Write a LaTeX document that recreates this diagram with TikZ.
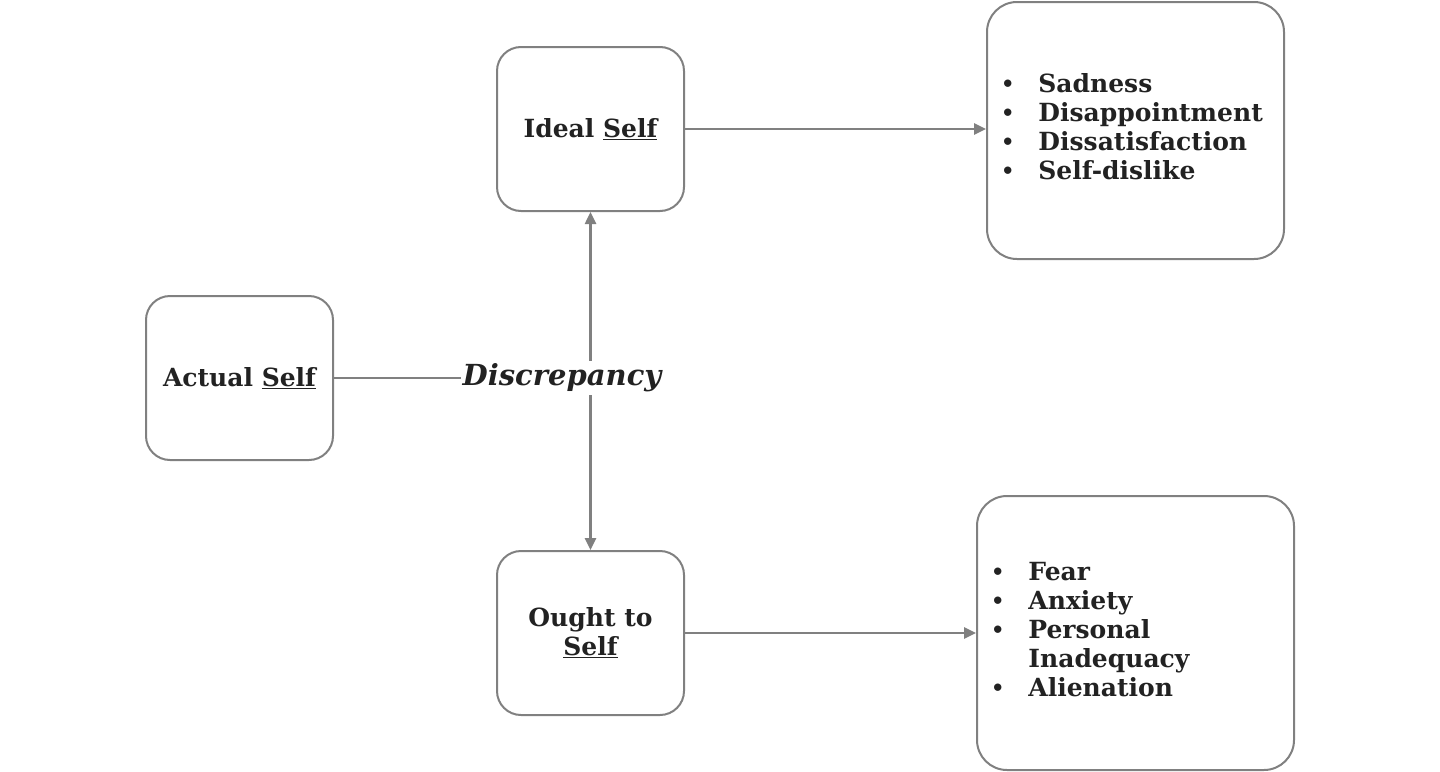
\documentclass[tikz,border=0pt]{standalone}
\usepackage{fontspec}
\setmainfont{DejaVu Serif}
\usetikzlibrary{arrows.meta}
\definecolor{linegray}{RGB}{128,128,128}
\definecolor{textdark}{RGB}{34,34,34}
\newcommand{\smallbul}{\raisebox{1.5pt}{\fontsize{21}{29}\selectfont •}}
\tikzset{
  selfbox/.style={draw=linegray, line width=2pt, rounded corners=24pt, minimum width=187pt, minimum height=164pt, align=center, text=textdark, font=\bfseries\fontsize{25}{29}\selectfont},
  listbox/.style={draw=linegray, line width=2pt, rounded corners=30pt, inner xsep=14pt, align=left, text=textdark, font=\bfseries\fontsize{25}{29}\selectfont},
  link/.style={draw=linegray, line width=2.5pt, -{Triangle[length=12pt,width=11pt]}},
  plainlink/.style={draw=linegray, line width=2.5pt}
}
\begin{document}
\begin{tikzpicture}[x=1pt,y=-1pt]
\useasboundingbox (0,0) rectangle (1440,771);
\node[selfbox] (ideal) at (590.5,129) {Ideal \underline{Self}};
\node[selfbox] (actual) at (239.5,378) {Actual \underline{Self}};
\node[selfbox] (ought) at (590.5,633) {Ought to\\\underline{Self}};
\node[listbox, text width=269pt, minimum height=257pt] (sad) at (1135.5,130.5) {%
\begin{tabular}{@{}l@{\hspace{24pt}}l@{}}
\smallbul & Sadness\\
\smallbul & Disappointment\\
\smallbul & Dissatisfaction\\
\smallbul & Self-dislike
\end{tabular}};
\node[listbox, text width=289pt, minimum height=274pt] (fear) at (1135.5,633) {%
\begin{tabular}{@{}l@{\hspace{24pt}}l@{}}
\smallbul & Fear\\
\smallbul & Anxiety\\
\smallbul & Personal\\
  & Inadequacy\\
\smallbul & Alienation
\end{tabular}};
\node[text=textdark, font=\bfseries\itshape\fontsize{29}{32}\selectfont, inner xsep=2pt, inner ysep=3pt] (disc) at (562,378) {Discrepancy};
\draw[plainlink] (actual.east) -- (disc.west);
\draw[link] (disc.north -| ideal.south) -- (ideal.south);
\draw[link] (disc.south -| ought.north) -- (ought.north);
\draw[link] (ideal.east) -- (ideal.east -| sad.west);
\draw[link] (ought.east) -- (ought.east -| fear.west);
\end{tikzpicture}
\end{document}
